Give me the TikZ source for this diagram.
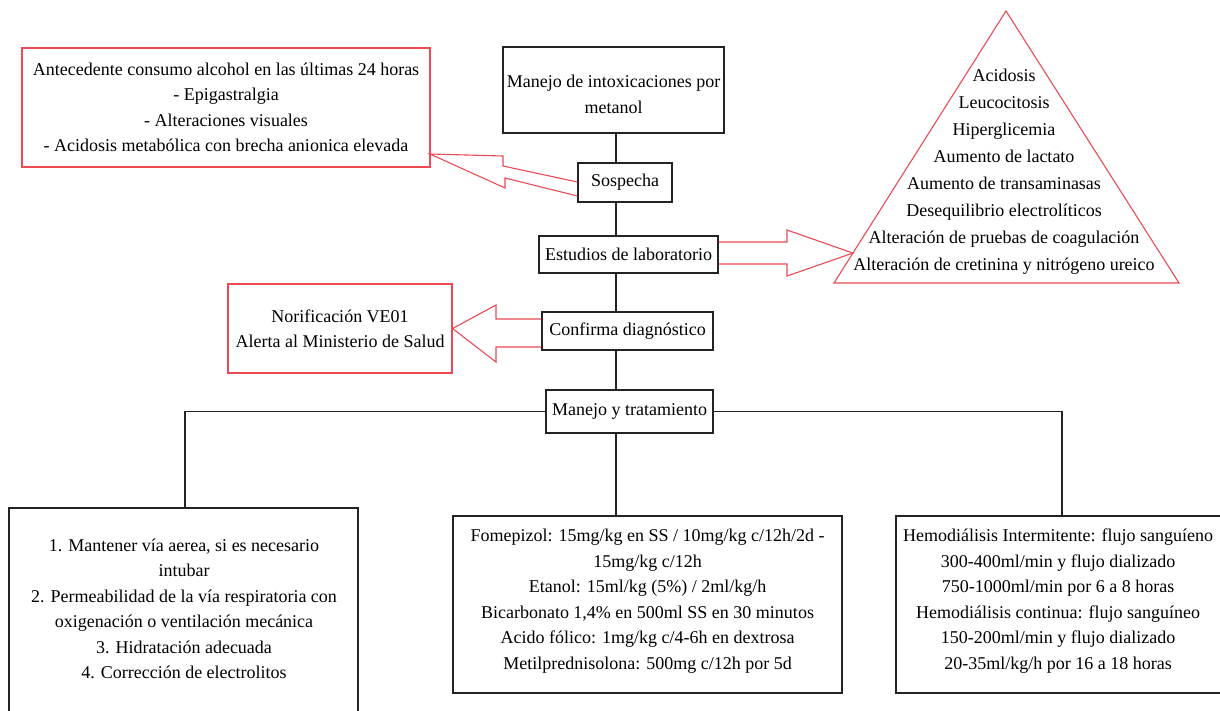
\documentclass[tikz,border=0pt]{standalone}
\usepackage{fontspec}
\setmainfont{Liberation Serif}
\usetikzlibrary{calc}
\definecolor{redc}{RGB}{236,74,84}
\definecolor{boxc}{RGB}{35,35,35}
\newcommand\myfs{\fontsize{18}{25.5}\selectfont}
\newcommand\mytfs{\fontsize{18}{27}\selectfont}
\begin{document}
\begin{tikzpicture}[x=1pt,y=-1pt,
  box/.style={draw=boxc, line width=1.2pt, fill=white, align=center, inner sep=0pt, font=\myfs, text=black},
  rbox/.style={box, draw=redc, line width=1.1pt},
  txt/.style={align=center, inner sep=0pt, font=\myfs, text=black},
  conn/.style={draw=boxc, line width=1.2pt},
  barrow/.style={draw=redc, line width=1.1pt, line join=miter}
]
\useasboundingbox (0,0) rectangle (1220,710);
% boxes
\node[rbox, minimum width=408, minimum height=119] (ant) at (226,107.5)
  {Antecedente consumo alcohol en las últimas 24 horas\\- Epigastralgia\\- Alteraciones visuales\\- Acidosis metabólica con brecha anionica elevada};
\node[box, minimum width=221, minimum height=86] (title) at (613.5,90) {};
\node[txt] (titletxt) at (613.5,94.5) {Manejo de intoxicaciones por\\metanol};
\node[box, minimum width=94, minimum height=39] (sos) at (625,182.5) {Sospecha};
\node[box, minimum width=179, minimum height=37] (est) at (628.5,254.5) {Estudios de laboratorio};
\node[box, minimum width=171, minimum height=38] (conf) at (627.5,331) {Confirma diagnóstico};
\node[box, minimum width=167, minimum height=43] (man) at (629.5,411.5) {Manejo y tratamiento};
\node[rbox, minimum width=224, minimum height=89] (noti) at (340,328.5)
  {Norificación VE01\\Alerta al Ministerio de Salud};
% triangle
\coordinate (ta) at (1006,11);
\coordinate (tl) at (834,283);
\coordinate (tr) at (1179,283);
\draw[redc, line width=1.1pt] (ta) -- (tl) -- (tr) -- cycle;
\node[align=center, font=\mytfs, inner sep=0pt] (tri) at (1004,172)
  {Acidosis\\Leucocitosis\\Hiperglicemia\\Aumento de lactato\\Aumento de transaminasas\\Desequilibrio electrolíticos\\Alteración de pruebas de coagulación\\Alteración de cretinina y nitrógeno ureico};
% bottom boxes
\node[box, minimum width=349, minimum height=206] (bl) at (183.5,611) {};
\node[txt] (bltxt) at (184,609)
  {1. Mantener vía aerea, si es necesario\\intubar\\2. Permeabilidad de la vía respiratoria con\\oxigenación o ventilación mecánica\\3. Hidratación adecuada\\4. Corrección de electrolitos};
\node[box, minimum width=389, minimum height=177] (bm) at (647.5,604.5) {};
\node[txt] (bmtxt) at (647.5,601)
  {Fomepizol: 15mg/kg en SS / 10mg/kg c/12h/2d -\\15mg/kg c/12h\\Etanol: 15ml/kg (5\%) / 2ml/kg/h\\Bicarbonato 1,4\% en 500ml SS en 30 minutos\\Acido fólico: 1mg/kg c/4-6h en dextrosa\\Metilprednisolona: 500mg c/12h por 5d};
\node[box, minimum width=328, minimum height=177] (br) at (1060,604.5) {};
\node[txt] (brtxt) at (1058,601)
  {Hemodiálisis Intermitente: flujo sanguíeno\\300-400ml/min y flujo dializado\\750-1000ml/min por 6 a 8 horas\\Hemodiálisis continua: flujo sanguíneo\\150-200ml/min y flujo dializado\\20-35ml/kg/h por 16 a 18 horas};
% connectors
\coordinate (cx) at (616,0);
\coordinate (lx) at (185,0);
\coordinate (rx) at (1062,0);
\draw[conn] (title.south -| cx) -- (sos.north -| cx);
\draw[conn] (sos.south -| cx) -- (est.north -| cx);
\draw[conn] (est.south -| cx) -- (conf.north -| cx);
\draw[conn] (conf.south -| cx) -- (man.north -| cx);
\draw[conn] (man.south -| cx) -- (bm.north -| cx);
\draw[conn] (man.west) -- (man.west -| lx) -- (bl.north -| lx);
\draw[conn] (man.east) -- (man.east -| rx) -- (br.north -| rx);
% block arrows
\draw[barrow] ($(sos.west)+(0,-0.5)$) -- (503,166) -- (503,156) -- (430,154) -- (505,188) -- (505,178) -- ($(sos.west)+(0,13.5)$);
\draw[barrow] ($(conf.west)+(0,-12)$) -- (496,319) -- (496,305) -- (noti.east) -- (496,362) -- (496,347) -- ($(conf.west)+(0,16)$);
\draw[barrow] ($(est.east)+(0,-12.5)$) -- (787,242) -- (787,230) -- ($(tl)!0.11!(ta)$) -- (787,276) -- (787,264) -- ($(est.east)+(0,9.5)$);
\end{tikzpicture}
\end{document}
